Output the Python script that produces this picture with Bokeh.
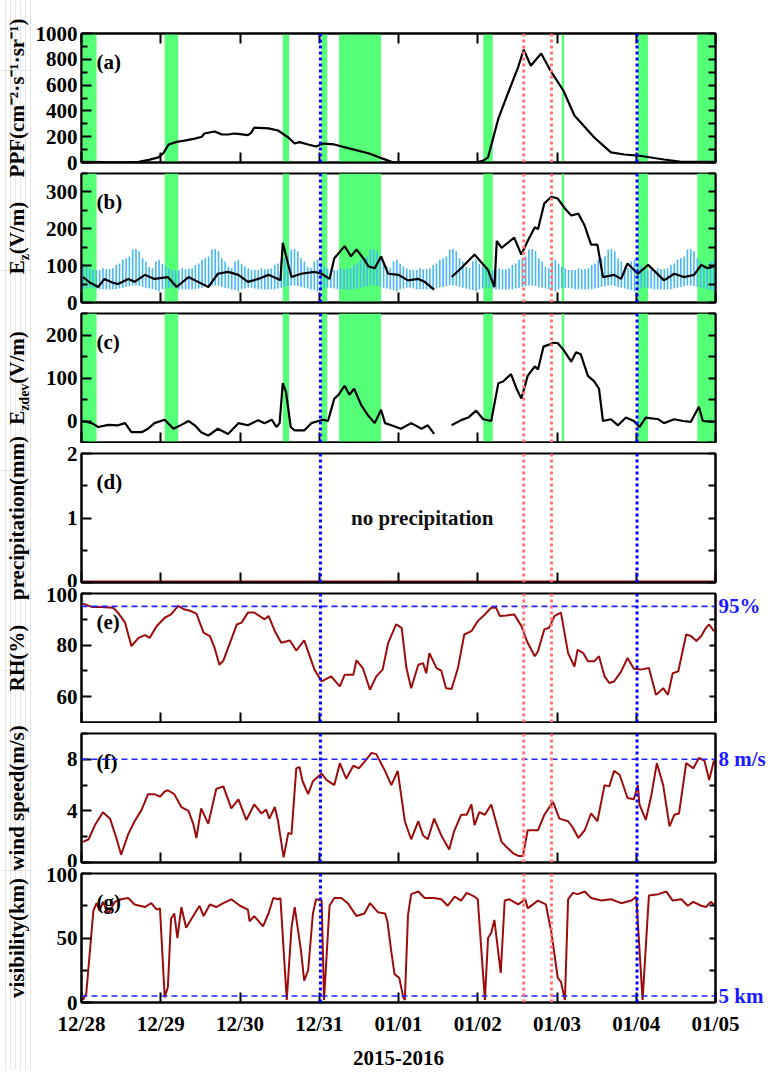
import math
from bokeh.plotting import figure
from bokeh.models import Range1d, FixedTicker, LinearAxis, BoxAnnotation, Span, Label
from bokeh.layouts import row, column
from bokeh.embed import file_html
from bokeh.resources import INLINE
from bokeh.core.properties import value

NAN = float("nan")

# ---------------- data ----------------
day_ticks = [0, 1, 2, 3, 4, 5, 6, 7, 8]
day_labels = ["12/28", "12/29", "12/30", "12/31", "01/01", "01/02", "01/03", "01/04", "01/05"]
x_title = "2015-2016"

# green shaded intervals (days since 12/28 00:00)
green_start = [0.00, 1.05, 2.54, 3.03, 3.25, 5.07, 6.06, 7.02, 7.77]
green_end = [0.19, 1.22, 2.62, 3.10, 3.78, 5.19, 6.09, 7.15, 8.00]

blue_event_days = [3.015, 7.01]
red_event_days = [5.58, 5.93]

# (a) PPF
ppf_day = [0.00, 0.30, 0.60, 0.72, 0.85, 0.97, 1.03, 1.10, 1.20, 1.30,
           1.43, 1.52, 1.55, 1.68, 1.77, 1.85, 1.93, 2.00, 2.10, 2.14,
           2.18, 2.36, 2.48, 2.61, 2.69, 2.75, 2.86, 2.96, 3.05, 3.19,
           3.40, 3.62, 3.80, 3.92, 4.50, 5.00, 5.07, 5.13, 5.26, 5.38,
           5.51, 5.58, 5.67, 5.80, 5.93, 6.08, 6.22, 6.47, 6.68, 6.85,
           7.02, 7.35, 7.57, 8.00]
ppf_val = [5, 3, 2, 5, 20, 40, 70, 140, 160, 170,
           185, 200, 225, 240, 218, 217, 225, 220, 212, 230,
           271, 264, 248, 194, 147, 158, 140, 124, 147, 140,
           106, 72, 30, 3, 2, 3, 15, 40, 340, 535,
           740, 875, 750, 845, 700, 558, 364, 194, 78, 62,
           54, 23, 5, 5]

# (b) Ez line
ez_day = [0.02, 0.10, 0.21, 0.29, 0.38, 0.46, 0.59, 0.67, 0.80, 0.92,
          1.09, 1.20, 1.35, 1.47, 1.60, 1.72, 1.85, 1.98, 2.10, 2.23,
          2.36, 2.48, 2.51, 2.54, 2.61, 2.65, 2.77, 2.94, 3.03, 3.13,
          3.19, 3.32, 3.40, 3.47, 3.57, 3.62, 3.70, 3.78, 3.87, 4.00,
          4.12, 4.25, 4.33, 4.45, 4.56, 4.67, 4.79, 4.96, 5.13, 5.21,
          5.24, 5.30, 5.46, 5.55, 5.63, 5.72, 5.76, 5.84, 5.93, 6.01,
          6.10, 6.18, 6.27, 6.35, 6.43, 6.51, 6.58, 6.72, 6.81, 6.89,
          7.02, 7.15, 7.28, 7.35, 7.48, 7.60, 7.73, 7.82, 7.90, 7.98]
ez_val = [69, 55, 42, 64, 55, 50, 64, 56, 75, 64,
          69, 42, 69, 56, 42, 78, 83, 75, 56, 64,
          75, 64, 60, 162, 102, 69, 78, 83, 78, 64,
          120, 153, 125, 144, 116, 98, 93, 125, 78, 75,
          60, 64, 56, 35, NAN, 69, 93, 130, 88, 42,
          167, 148, 176, 130, 167, 204, 199, 269, 287, 282,
          255, 236, 241, 208, 157, 157, 69, 75, 64, 106,
          78, 102, 75, 60, 78, 69, 75, 102, 93, 98]

# (b) fair-weather diurnal range of Ez, hour 0..23 (blue bars)
ez_fw_upper = [105, 98, 92, 88, 88, 88, 93, 90, 91, 93, 102, 106,
               116, 120, 125, 144, 145, 139, 120, 111, 97, 93, 111, 116]
ez_fw_lower = [36, 38, 40, 40, 38, 36, 36, 35, 35, 36, 36, 38,
               40, 42, 44, 46, 46, 45, 42, 40, 38, 36, 34, 30]

# (c) Ez deviation
ezd_day = [0.02, 0.13, 0.21, 0.34, 0.46, 0.55, 0.63, 0.76, 0.84, 0.92,
           1.05, 1.16, 1.26, 1.35, 1.43, 1.51, 1.60, 1.72, 1.85, 1.98,
           2.10, 2.23, 2.31, 2.40, 2.46, 2.50, 2.54, 2.58, 2.64, 2.69,
           2.81, 2.90, 2.99, 3.05, 3.11, 3.19, 3.24, 3.32, 3.38, 3.44,
           3.53, 3.62, 3.70, 3.78, 3.83, 3.91, 4.03, 4.16, 4.29, 4.37,
           4.45, 4.56, 4.67, 4.79, 4.88, 4.98, 5.07, 5.17, 5.26, 5.32,
           5.42, 5.49, 5.55, 5.63, 5.72, 5.76, 5.83, 5.89, 5.95, 6.01,
           6.08, 6.18, 6.24, 6.30, 6.39, 6.47, 6.53, 6.58, 6.68, 6.77,
           6.87, 6.97, 7.04, 7.12, 7.28, 7.35, 7.48, 7.59, 7.69, 7.79,
           7.84, 7.98]
ezd_val = [0, -5, -14, -9, -10, -5, -26, -26, -18, -5,
           3, -18, -9, 0, -10, -26, -34, -18, -30, -5,
           -10, 2, -5, 3, -14, -5, 88, 68, -14, -22,
           -22, -5, 0, 3, 0, 52, 60, 82, 61, 75,
           37, 12, -5, 26, -5, -10, -18, -5, -18, -10,
           -30, NAN, -10, 2, 8, 24, 4, 0, 88, 92,
           109, 75, 52, 105, 127, 120, 173, 177, 182, 181,
           166, 138, 160, 155, 105, 92, 75, 0, 4, -10,
           8, 0, -14, 8, 4, -5, 4, 0, -2, 33,
           0, -2]

# (d) precipitation
precip_day = [0.0, 2.0, 4.0, 6.0, 8.0]
precip_mm = [0.0, 0.0, 0.0, 0.0, 0.0]
precip_note = "no precipitation"

# (e) relative humidity
rh_day = [0.02, 0.13, 0.25, 0.40, 0.46, 0.55, 0.63, 0.72, 0.80, 0.86,
          0.95, 1.05, 1.13, 1.22, 1.29, 1.37, 1.45, 1.54, 1.62, 1.68,
          1.74, 1.79, 1.89, 1.96, 2.02, 2.10, 2.18, 2.31, 2.36, 2.44,
          2.52, 2.63, 2.71, 2.81, 2.94, 3.03, 3.15, 3.26, 3.32, 3.43,
          3.47, 3.55, 3.64, 3.72, 3.80, 3.87, 3.97, 4.04, 4.10, 4.16,
          4.25, 4.31, 4.35, 4.39, 4.48, 4.54, 4.60, 4.67, 4.75, 4.83,
          4.92, 5.00, 5.09, 5.17, 5.23, 5.28, 5.36, 5.46, 5.55, 5.63,
          5.72, 5.76, 5.84, 5.90, 5.97, 6.05, 6.14, 6.22, 6.26, 6.33,
          6.39, 6.47, 6.53, 6.60, 6.66, 6.72, 6.81, 6.89, 6.97, 7.06,
          7.16, 7.25, 7.34, 7.40, 7.46, 7.53, 7.63, 7.69, 7.76, 7.82,
          7.88, 7.92, 7.98]
rh_pct = [96.1, 94.8, 94.8, 94.5, 92.6, 88.7, 79.6, 82.8, 83.9, 82.8,
          87.4, 90.6, 91.9, 95.2, 93.9, 93.3, 92.2, 84.8, 83.5, 78.9,
          72.4, 74.0, 82.2, 88.0, 88.7, 92.6, 92.6, 90.0, 91.3, 85.4,
          80.9, 81.8, 77.9, 81.8, 70.5, 65.9, 67.9, 64.0, 68.5, 68.5,
          74.1, 71.1, 62.7, 67.9, 70.5, 80.9, 88.0, 86.7, 71.1, 63.3,
          72.4, 73.0, 69.1, 76.9, 71.1, 70.1, 63.3, 63.0, 71.1, 84.1,
          85.4, 89.3, 91.9, 94.5, 94.5, 91.3, 91.5, 91.9, 87.4, 80.9,
          75.7, 77.6, 86.1, 86.7, 91.3, 92.6, 76.9, 71.7, 78.2, 76.9,
          73.7, 73.7, 75.7, 67.9, 65.3, 65.9, 69.8, 75.0, 70.8, 70.5,
          71.1, 60.7, 63.3, 60.7, 69.1, 69.8, 84.1, 83.5, 81.6, 83.5,
          86.7, 88.0, 85.4]

# (f) wind speed
wind_day = [0.02, 0.09, 0.17, 0.27, 0.36, 0.44, 0.50, 0.59, 0.67, 0.76,
            0.84, 0.92, 0.99, 1.05, 1.09, 1.17, 1.26, 1.35, 1.41, 1.45,
            1.51, 1.60, 1.70, 1.79, 1.89, 1.98, 2.08, 2.18, 2.27, 2.33,
            2.37, 2.44, 2.48, 2.55, 2.61, 2.65, 2.71, 2.75, 2.79, 2.86,
            2.92, 3.03, 3.09, 3.19, 3.26, 3.34, 3.43, 3.50, 3.57, 3.66,
            3.72, 3.83, 3.91, 3.99, 4.08, 4.16, 4.25, 4.31, 4.37, 4.45,
            4.54, 4.64, 4.70, 4.79, 4.86, 4.92, 4.96, 5.02, 5.09, 5.17,
            5.30, 5.38, 5.45, 5.52, 5.57, 5.63, 5.76, 5.84, 5.95, 6.03,
            6.14, 6.20, 6.27, 6.35, 6.43, 6.51, 6.60, 6.66, 6.72, 6.79,
            6.89, 6.97, 7.02, 7.04, 7.12, 7.19, 7.26, 7.34, 7.42, 7.48,
            7.54, 7.63, 7.72, 7.79, 7.86, 7.92, 7.98]
wind_ms = [1.6, 1.8, 2.9, 3.9, 3.4, 1.9, 0.6, 2.2, 3.2, 4.1,
           5.3, 5.3, 5.1, 5.5, 5.6, 5.3, 4.3, 4.0, 3.0, 1.9,
           4.2, 3.0, 5.7, 5.9, 4.2, 4.9, 3.3, 4.5, 3.8, 4.1,
           3.4, 4.3, 3.2, 0.4, 2.3, 2.2, 7.3, 7.4, 6.3, 5.3,
           6.3, 6.9, 6.4, 6.0, 7.7, 6.5, 7.5, 7.3, 7.8, 8.5,
           8.4, 7.1, 6.0, 7.1, 3.2, 1.8, 3.2, 2.1, 1.8, 3.4,
           2.1, 1.0, 2.4, 3.7, 3.7, 4.5, 2.9, 3.9, 3.7, 4.5,
           1.6, 1.1, 0.7, 0.5, 0.5, 2.5, 2.5, 3.7, 4.7, 3.4,
           3.2, 2.7, 1.9, 2.5, 3.8, 3.2, 6.0, 5.9, 7.1, 6.8,
           5.0, 4.9, 6.0, 4.5, 3.3, 5.2, 7.7, 6.0, 2.8, 3.7,
           3.8, 7.7, 7.3, 8.1, 7.9, 6.4, 7.9]

# (g) visibility
vis_day = [0.02, 0.06, 0.15, 0.19, 0.23, 0.27, 0.34, 0.42, 0.50, 0.59,
           0.67, 0.80, 0.88, 0.95, 0.99, 1.05, 1.09, 1.13, 1.17, 1.21,
           1.26, 1.32, 1.41, 1.49, 1.54, 1.62, 1.70, 1.79, 1.89, 2.00,
           2.10, 2.12, 2.18, 2.29, 2.36, 2.42, 2.48, 2.51, 2.59, 2.65,
           2.69, 2.77, 2.81, 2.86, 2.92, 2.96, 3.03, 3.06, 3.13, 3.19,
           3.28, 3.36, 3.47, 3.57, 3.64, 3.74, 3.83, 3.86, 3.91, 3.95,
           4.01, 4.06, 4.08, 4.12, 4.16, 4.25, 4.33, 4.45, 4.54, 4.62,
           4.71, 4.79, 4.86, 4.96, 5.00, 5.09, 5.13, 5.17, 5.21, 5.29,
           5.34, 5.40, 5.51, 5.60, 5.63, 5.76, 5.86, 5.93, 6.01, 6.05,
           6.10, 6.14, 6.20, 6.26, 6.35, 6.43, 6.56, 6.68, 6.81, 6.94,
           7.00, 7.08, 7.16, 7.28, 7.38, 7.46, 7.57, 7.65, 7.72, 7.82,
           7.88, 7.94, 7.98]
vis_km = [2, 7, 71, 77, 71, 78, 69, 78, 80, 81,
          76, 74, 77, 72, 73, 4, 12, 65, 69, 50,
          74, 58, 67, 75, 67, 76, 74, 77, 80, 75,
          72, 63, 67, 59, 69, 81, 80, 81, 2, 58,
          74, 40, 17, 25, 69, 80, 79, 2, 75, 81,
          81, 77, 67, 69, 77, 70, 69, 63, 39, 22,
          19, 4, 2, 68, 84, 86, 81, 81, 80, 75,
          82, 79, 85, 82, 80, 2, 50, 54, 64, 23,
          79, 80, 76, 80, 73, 79, 76, 54, 19, 16,
          2, 80, 85, 84, 86, 81, 79, 80, 77, 79,
          82, 2, 83, 84, 86, 79, 80, 75, 78, 75,
          74, 78, 76]

rh_threshold, rh_threshold_label = 95, "95%"
wind_threshold, wind_threshold_label = 8, "8 m/s"
vis_threshold, vis_threshold_label = 5, "5 km"

# ---------------- style ----------------
FONT = "Liberation Serif"
FS = "21px"
GREEN = "#55ff77"
DARKRED = "#9b0d0d"
BLUE = "#0000ff"
RED = "#ff7474"
BARBLUE = "#45b8f5"
FW, FH = 634, 129
LEFT_B, RIGHT_B = 48, 54
LABEL_W = 32


def style_axis(ax, tick_in=10, minor_in=6, standoff=4):
    ax.axis_line_color = "black"
    ax.axis_line_width = 2
    ax.major_tick_line_color = "black"
    ax.major_tick_line_width = 2
    ax.major_tick_in = tick_in
    ax.major_tick_out = 0
    ax.minor_tick_line_color = "black"
    ax.minor_tick_line_width = 2
    ax.minor_tick_in = minor_in
    ax.minor_tick_out = 0
    ax.major_label_text_font = FONT
    ax.major_label_text_font_style = "bold"
    ax.major_label_text_color = "black"
    ax.major_label_text_font_size = FS
    ax.major_label_standoff = standoff


def unlabeled_axis(positions, tick_len):
    # mirrored tick marks without labels: every mark is drawn as a minor tick
    ax = LinearAxis(ticker=FixedTicker(ticks=[], minor_ticks=positions))
    style_axis(ax, tick_in=0, minor_in=tick_len, standoff=0)
    return ax


def make_panel(ylo, yhi, yticks, yminor, btop, bbot, letter, last=False, top_ticks=False,
               right_ticker=None, right_labels=None, shade=True):
    p = figure(frame_width=FW, frame_height=FH, x_range=Range1d(0, 8), y_range=Range1d(ylo, yhi),
               min_border_left=LEFT_B, min_border_right=RIGHT_B,
               min_border_top=btop, min_border_bottom=bbot,
               x_axis_location=None, output_backend="svg", toolbar_location=None)
    p.grid.visible = False
    p.outline_line_color = "black"
    p.outline_line_width = 2
    p.background_fill_color = "white"
    p.border_fill_color = "white"

    if last:
        xa = LinearAxis(ticker=FixedTicker(ticks=day_ticks, minor_ticks=[]))
        style_axis(xa, tick_in=10, minor_in=0, standoff=9)
        xa.major_label_overrides = {d: s for d, s in zip(day_ticks, day_labels)}
        xa.axis_label = x_title
        xa.axis_label_text_font = FONT
        xa.axis_label_text_font_style = "bold"
        xa.axis_label_text_font_size = FS
        xa.axis_label_text_color = "black"
        xa.axis_label_standoff = 12
    else:
        xa = unlabeled_axis(day_ticks, 10)
    p.add_layout(xa, "below")

    ya = p.yaxis[0]
    ya.ticker = FixedTicker(ticks=yticks, minor_ticks=yminor)
    style_axis(ya, tick_in=10, minor_in=6, standoff=4)

    if top_ticks:
        p.add_layout(unlabeled_axis(day_ticks, 10), "above")

    if right_ticker is None:
        ra = unlabeled_axis(yticks + yminor, 7)
    else:
        ra = LinearAxis(ticker=right_ticker)
        style_axis(ra, tick_in=0, minor_in=6, standoff=3)
        ra.major_label_overrides = right_labels
        ra.major_label_text_color = "#1a1aff"
    p.add_layout(ra, "right")

    if shade:
        for l, r in zip(green_start, green_end):
            p.add_layout(BoxAnnotation(left=l, right=r, fill_color=GREEN, fill_alpha=1.0,
                                       line_alpha=0, level="underlay"))

    p.add_layout(Label(x=0, y=yhi, x_offset=15, y_offset=-28, text=letter, text_baseline="middle",
                       text_font=FONT, text_font_style="bold", text_font_size=FS, text_color="black"))
    return p


def add_events(p):
    for d in blue_event_days:
        p.add_layout(Span(location=d, dimension="height", line_color=BLUE, line_width=3, line_dash="3 3"))
    for d in red_event_days:
        p.add_layout(Span(location=d, dimension="height", line_color=RED, line_width=3, line_dash="3 3"))


borders = [(33, 10), (1, 10), (1, 1), (10, 5), (6, 1), (10, 5), (6, 68)]

# (a)
pa = make_panel(0, 1000, [0, 200, 400, 600, 800, 1000], [100, 300, 500, 700, 900],
                *borders[0], "(a)", top_ticks=True)
pa.line(ppf_day, ppf_val, line_color="black", line_width=2.2)
add_events(pa)

# (b)
pb = make_panel(0, 350, [0, 100, 200, 300], [50, 150, 250, 350], *borders[1], "(b)")
bar_x, bar_lo, bar_hi = [], [], []
for d in range(8):
    for h in range(24):
        bar_x.append(d + (h + 0.5) / 24)
        bar_lo.append(ez_fw_lower[h])
        bar_hi.append(ez_fw_upper[h])
pb.segment(x0=bar_x, y0=bar_lo, x1=bar_x, y1=bar_hi, line_color=BARBLUE, line_width=1.6)
pb.line(ez_day, ez_val, line_color="black", line_width=2.2)
add_events(pb)

# (c)
pc = make_panel(-50, 250, [0, 100, 200], [-50, 50, 150, 250], *borders[2], "(c)")
pc.line(ezd_day, ezd_val, line_color="black", line_width=2.2)
add_events(pc)

# (d)
pd_ = make_panel(0, 2, [0, 1, 2], [0.5, 1.5], *borders[3], "(d)", shade=False)
pd_.line(precip_day, precip_mm, line_color=DARKRED, line_width=4)
pd_.add_layout(Label(x=4.3, y=1.0, text=precip_note, text_align="center", text_baseline="middle",
                     text_font=FONT, text_font_style="bold", text_font_size=FS, text_color="#111111"))
add_events(pd_)

# (e)
pe = make_panel(50, 100, [60, 80, 100], [70, 90], *borders[4], "(e)", shade=False,
                right_ticker=FixedTicker(ticks=[rh_threshold], minor_ticks=[60, 70, 80, 90]),
                right_labels={rh_threshold: rh_threshold_label})
pe.line(rh_day, rh_pct, line_color=DARKRED, line_width=2)
pe.add_layout(Span(location=rh_threshold, dimension="width", line_color="#2222ff", line_width=1.6, line_dash="6 4"))
add_events(pe)

# (f)
pf = make_panel(0, 10, [0, 4, 8], [2, 6, 10], *borders[5], "(f)", shade=False,
                right_ticker=FixedTicker(ticks=[wind_threshold], minor_ticks=[2, 4, 6]),
                right_labels={wind_threshold: wind_threshold_label})
pf.line(wind_day, wind_ms, line_color=DARKRED, line_width=2)
pf.add_layout(Span(location=wind_threshold, dimension="width", line_color="#2222ff", line_width=1.6, line_dash="6 4"))
add_events(pf)

# (g)
pg = make_panel(0, 100, [0, 50, 100], [25, 75], *borders[6], "(g)", shade=False, last=True,
                right_ticker=FixedTicker(ticks=[vis_threshold], minor_ticks=[25, 50, 75]),
                right_labels={vis_threshold: vis_threshold_label})
pg.line(vis_day, vis_km, line_color=DARKRED, line_width=2)
pg.add_layout(Span(location=vis_threshold, dimension="width", line_color="#2222ff", line_width=1.6, line_dash="6 4"))
add_events(pg)

panels = [pa, pb, pc, pd_, pe, pf, pg]

# ---------------- y-axis titles (shared label strip) ----------------
heights = [bt + FH + bb for bt, bb in borders]
H = sum(heights)
centers = []
acc = 0
for (bt, bb), hgt in zip(borders, heights):
    centers.append(H - (acc + bt + FH / 2))
    acc += hgt

lab = figure(frame_width=LABEL_W, frame_height=H, x_range=Range1d(0, LABEL_W), y_range=Range1d(0, H),
             min_border=0, x_axis_location=None, y_axis_location=None,
             output_backend="svg", toolbar_location=None)
lab.outline_line_color = None
lab.background_fill_color = "white"
lab.border_fill_color = "white"

XB = 16
simple_titles = ["PPF(cm\u207b\u00b2\u00b7s\u207b\u00b9\u00b7sr\u207b\u00b9)", "precipitation(mm)",
                 "RH(%)", "wind speed(m/s)", "visibility(km)"]
simple_idx = [0, 3, 4, 5, 6]
lab.text(x=[XB] * len(simple_idx), y=[centers[i] for i in simple_idx], text=simple_titles,
         angle=math.pi / 2, text_align="center", text_baseline="middle",
         text_font=value(FONT), text_font_style="bold", text_font_size=FS, text_color="black")

# E_z(V/m) and E_zdev(V/m) with subscripts
e_w, unit_w = 14.0, 52.5
for idx, sub, sub_w in [(1, "z", 6.2), (2, "zdev", 27.2)]:
    L = e_w + sub_w + unit_w
    y0 = centers[idx] - L / 2
    lab.text(x=[XB, XB], y=[y0, y0 + e_w + sub_w], text=["E", "(V/m)"], angle=math.pi / 2,
             text_align="left", text_baseline="middle", text_font=value(FONT),
             text_font_style="bold", text_font_size=FS, text_color="black")
    lab.text(x=[XB + 8], y=[y0 + e_w], text=[sub], angle=math.pi / 2,
             text_align="left", text_baseline="middle", text_font=value(FONT),
             text_font_style="bold", text_font_size="14px", text_color="black")

layout = row(lab, column(*panels, spacing=0), spacing=0)

open("out.html", "w").write(file_html(layout, INLINE))
